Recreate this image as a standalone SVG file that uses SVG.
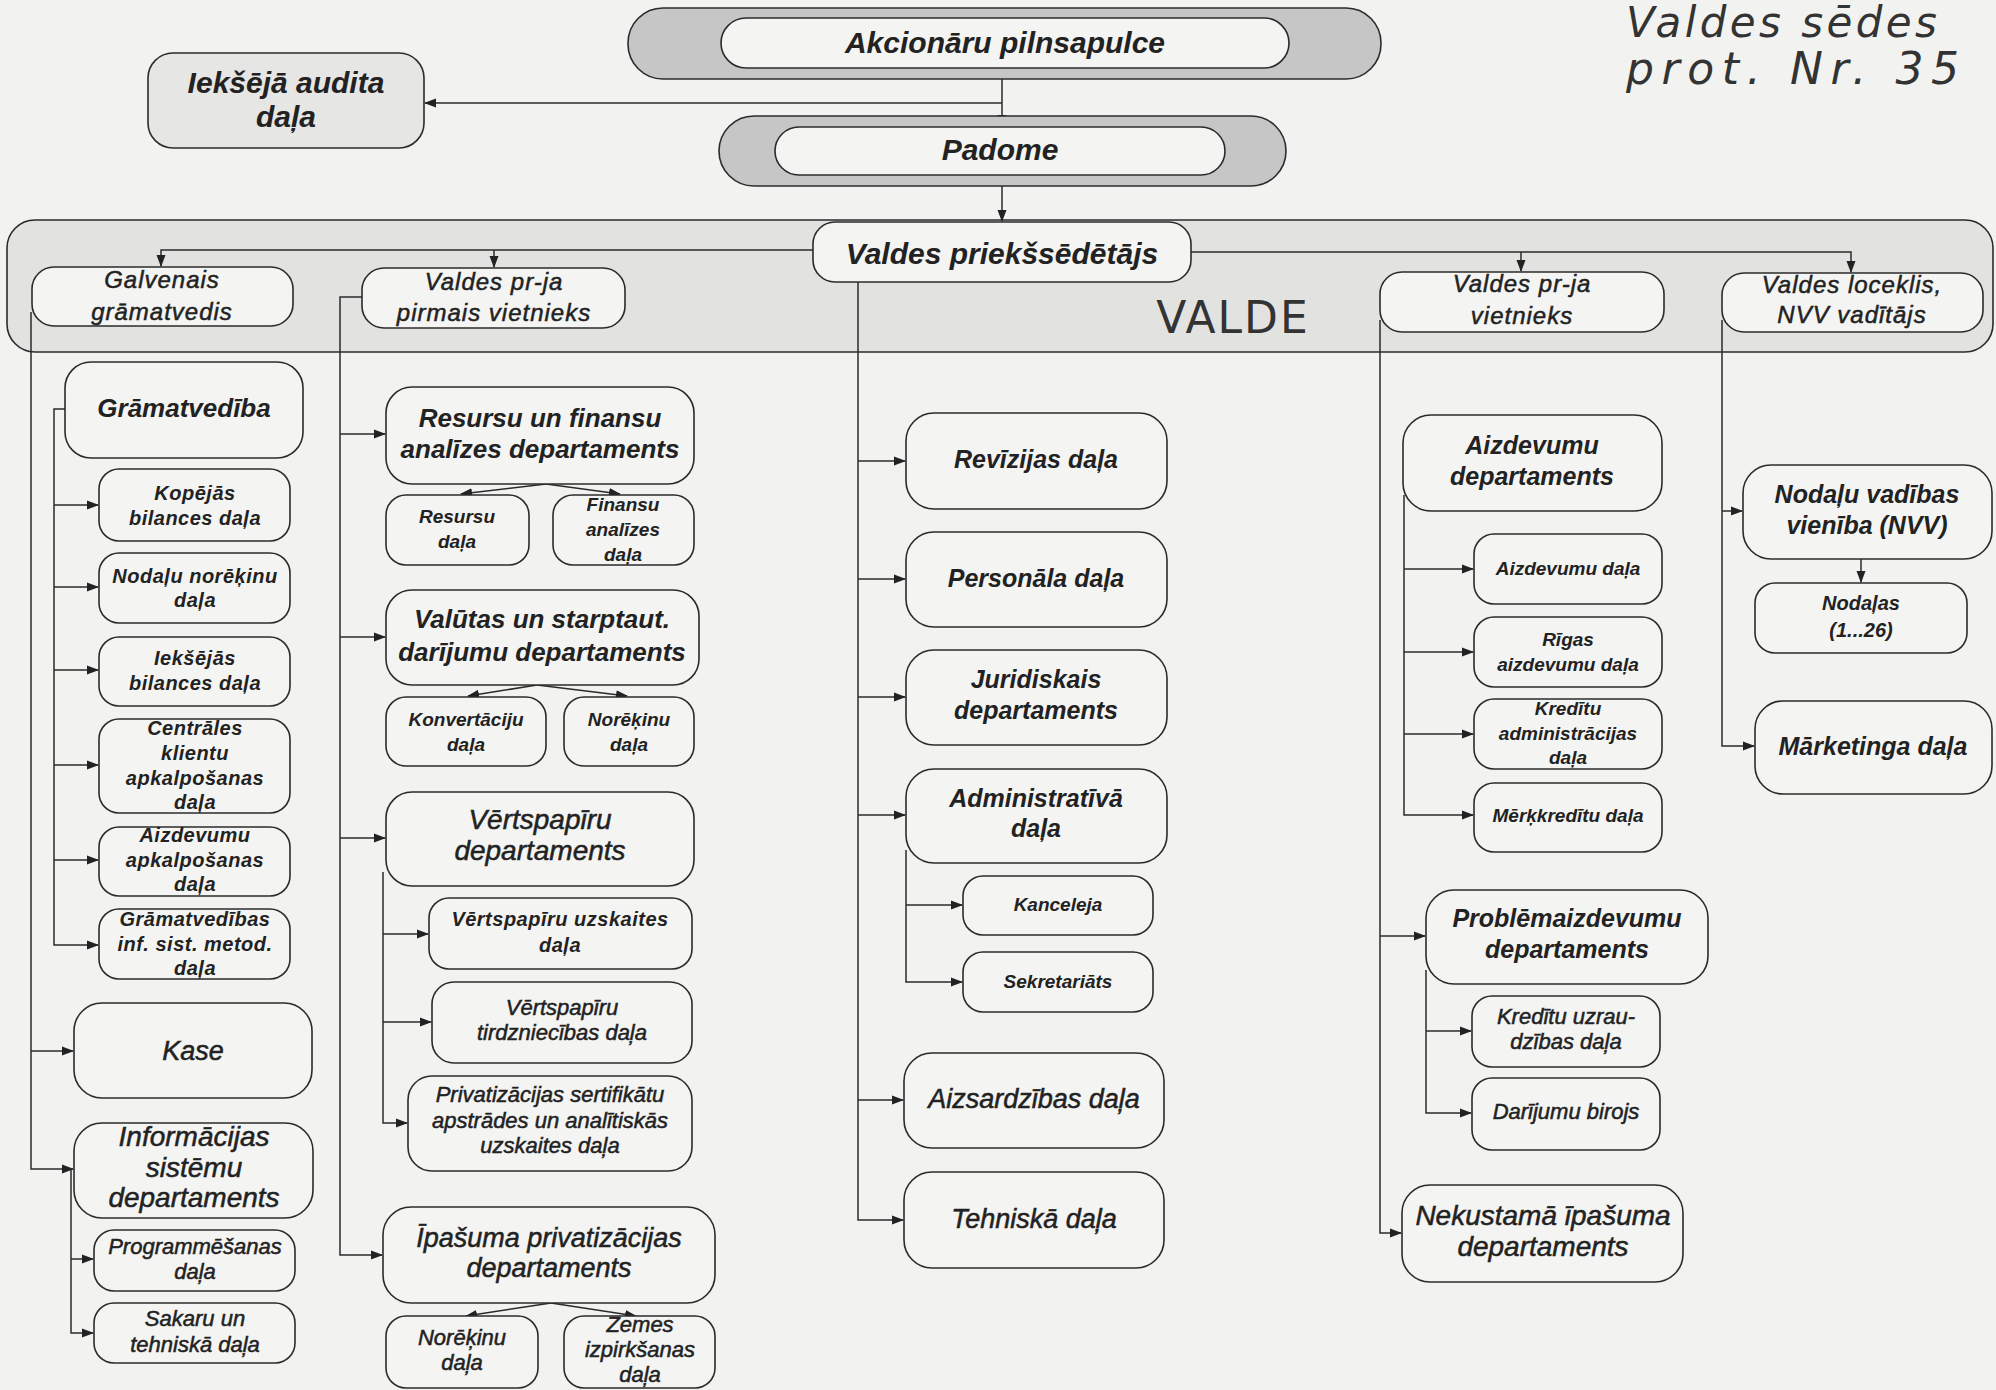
<svg xmlns="http://www.w3.org/2000/svg" width="1996" height="1390" viewBox="0 0 1996 1390">
<style>
.bg{fill:#f2f2f0}
.n{fill:#f4f4f2;stroke:#2b2b2b;stroke-width:1.6}
.g{fill:#c6c6c6;stroke:#2b2b2b;stroke-width:1.6}
.lg{fill:#e6e6e4;stroke:#2b2b2b;stroke-width:1.6}
.vb{fill:#e2e2e0;stroke:#2b2b2b;stroke-width:1.6}
text{font-family:"Liberation Sans",Arial,sans-serif;font-style:italic;fill:#222;text-anchor:middle}
.bi{font-weight:bold}
.ri{font-weight:normal;stroke:#222;stroke-width:0.5}
.c line,.c polyline{stroke:#2b2b2b;stroke-width:1.5;fill:none}
.hw{font-family:"DejaVu Sans",sans-serif;font-style:italic;font-weight:normal;fill:#333;text-anchor:start}
</style>
<defs>
<marker id="a" markerWidth="12" markerHeight="10" refX="11" refY="5" orient="auto" markerUnits="userSpaceOnUse"><path d="M0,0.5 L12,5 L0,9.5 z" fill="#222"/></marker>
</defs>
<rect class="bg" x="0" y="0" width="1996" height="1390"/>

<!-- VALDE region -->
<g id="valde-region">
<rect class="vb" x="7" y="220" width="1986" height="132" rx="28"/>
<text x="1233" y="333" style="font-family:'DejaVu Sans',sans-serif;font-style:normal;font-weight:normal;font-size:44px;letter-spacing:2px;fill:#333">VALDE</text>
</g>

<g id="note">
<text class="hw" x="1626" y="37" font-size="42" textLength="311" lengthAdjust="spacing">Valdes sēdes</text>
<text class="hw" x="1626" y="84" font-size="44" textLength="333" lengthAdjust="spacing">prot. Nr. 35</text>
</g>

<!-- connectors -->
<g class="c" id="connectors">
<line x1="1002" y1="79" x2="1002" y2="126" marker-end="url(#a)"/>
<line x1="1002" y1="103" x2="425" y2="103" marker-end="url(#a)"/>
<line x1="1002" y1="186" x2="1002" y2="221" marker-end="url(#a)"/>
<polyline points="813,250 161,250 161,266" marker-end="url(#a)"/>
<line x1="494" y1="250" x2="494" y2="267" marker-end="url(#a)"/>
<polyline points="1191,252 1851,252 1851,272" marker-end="url(#a)"/>
<line x1="1521" y1="252" x2="1521" y2="271" marker-end="url(#a)"/>
<!-- column 1 -->
<polyline points="31,312 31,1169 73,1169" marker-end="url(#a)"/>
<line x1="31" y1="1051" x2="73" y2="1051" marker-end="url(#a)"/>
<polyline points="65,409 54,409 54,945 98,945" marker-end="url(#a)"/>
<line x1="54" y1="505" x2="98" y2="505" marker-end="url(#a)"/>
<line x1="54" y1="587" x2="98" y2="587" marker-end="url(#a)"/>
<line x1="54" y1="670" x2="98" y2="670" marker-end="url(#a)"/>
<line x1="54" y1="765" x2="98" y2="765" marker-end="url(#a)"/>
<line x1="54" y1="860" x2="98" y2="860" marker-end="url(#a)"/>
<polyline points="71,1169 71,1333 93,1333" marker-end="url(#a)"/>
<line x1="71" y1="1259" x2="93" y2="1259" marker-end="url(#a)"/>
<!-- column 2 -->
<polyline points="362,297 340,297 340,1255 382,1255" marker-end="url(#a)"/>
<line x1="340" y1="434" x2="385" y2="434" marker-end="url(#a)"/>
<line x1="340" y1="637" x2="385" y2="637" marker-end="url(#a)"/>
<line x1="340" y1="838" x2="385" y2="838" marker-end="url(#a)"/>
<line x1="546" y1="484" x2="461" y2="494" marker-end="url(#a)"/>
<line x1="546" y1="484" x2="620" y2="494" marker-end="url(#a)"/>
<line x1="537" y1="685" x2="468" y2="696" marker-end="url(#a)"/>
<line x1="537" y1="685" x2="627" y2="696" marker-end="url(#a)"/>
<polyline points="383,872 383,1123 407,1123" marker-end="url(#a)"/>
<line x1="383" y1="934" x2="428" y2="934" marker-end="url(#a)"/>
<line x1="383" y1="1022" x2="431" y2="1022" marker-end="url(#a)"/>
<line x1="551" y1="1303" x2="466" y2="1316" marker-end="url(#a)"/>
<line x1="551" y1="1303" x2="636" y2="1316" marker-end="url(#a)"/>
<!-- column 3 -->
<polyline points="858,282 858,1220 903,1220" marker-end="url(#a)"/>
<line x1="858" y1="461" x2="905" y2="461" marker-end="url(#a)"/>
<line x1="858" y1="579" x2="905" y2="579" marker-end="url(#a)"/>
<line x1="858" y1="697" x2="905" y2="697" marker-end="url(#a)"/>
<line x1="858" y1="815" x2="905" y2="815" marker-end="url(#a)"/>
<line x1="858" y1="1100" x2="903" y2="1100" marker-end="url(#a)"/>
<polyline points="906,850 906,982 962,982" marker-end="url(#a)"/>
<line x1="906" y1="905" x2="962" y2="905" marker-end="url(#a)"/>
<!-- column 4 -->
<polyline points="1380,320 1380,1233 1401,1233" marker-end="url(#a)"/>
<line x1="1380" y1="936" x2="1425" y2="936" marker-end="url(#a)"/>
<polyline points="1404,495 1404,815 1473,815" marker-end="url(#a)"/>
<line x1="1404" y1="569" x2="1473" y2="569" marker-end="url(#a)"/>
<line x1="1404" y1="652" x2="1473" y2="652" marker-end="url(#a)"/>
<line x1="1404" y1="734" x2="1473" y2="734" marker-end="url(#a)"/>
<polyline points="1426,970 1426,1113 1471,1113" marker-end="url(#a)"/>
<line x1="1426" y1="1031" x2="1471" y2="1031" marker-end="url(#a)"/>
<!-- column 5 -->
<polyline points="1722,320 1722,746 1754,746" marker-end="url(#a)"/>
<line x1="1722" y1="511" x2="1742" y2="511" marker-end="url(#a)"/>
<line x1="1861" y1="559" x2="1861" y2="582" marker-end="url(#a)"/>
</g>

<!-- top nodes -->
<g id="akcionaru">
<rect class="g" x="628" y="8" width="753" height="71" rx="35"/>
<rect class="n" x="721" y="18" width="568" height="50" rx="25"/>
<text class="bi" x="1005" y="53" font-size="30">Akcionāru pilnsapulce</text>
</g>
<g id="padome">
<rect class="g" x="719" y="116" width="567" height="70" rx="35"/>
<rect class="n" x="775" y="127" width="450" height="48" rx="24"/>
<text class="bi" x="1000" y="160" font-size="30">Padome</text>
</g>
<g id="audits">
<rect class="lg" x="148" y="53" width="276" height="95" rx="25"/>
<text class="bi" x="286" y="93" font-size="30">Iekšējā audita</text>
<text class="bi" x="286" y="127" font-size="30">daļa</text>
</g>
<g id="priekssedetajs">
<rect class="n" x="813" y="222" width="378" height="60" rx="22"/>
<text class="bi" x="1002" y="264" font-size="30">Valdes priekšsēdētājs</text>
</g>
<g id="galvenais">
<rect class="n" x="32" y="267" width="261" height="59" rx="22"/>
<text class="ri" x="162" y="288" font-size="24" letter-spacing="1">Galvenais</text>
<text class="ri" x="162" y="320" font-size="24" letter-spacing="1">grāmatvedis</text>
</g>
<g id="pirmais">
<rect class="n" x="362" y="268" width="263" height="60" rx="22"/>
<text class="ri" x="494" y="290" font-size="24" letter-spacing="1">Valdes pr-ja</text>
<text class="ri" x="494" y="321" font-size="24" letter-spacing="1">pirmais vietnieks</text>
</g>
<g id="vietnieks">
<rect class="n" x="1380" y="272" width="284" height="60" rx="22"/>
<text class="ri" x="1522" y="292" font-size="24" letter-spacing="1">Valdes pr-ja</text>
<text class="ri" x="1522" y="324" font-size="24" letter-spacing="1">vietnieks</text>
</g>
<g id="loceklis">
<rect class="n" x="1722" y="273" width="261" height="59" rx="22"/>
<text class="ri" x="1852" y="293" font-size="24" letter-spacing="1">Valdes loceklis,</text>
<text class="ri" x="1852" y="323" font-size="24" letter-spacing="1">NVV vadītājs</text>
</g>

<!-- column 1 -->
<g id="gramatvediba">
<rect class="n" x="65" y="362" width="238" height="96" rx="26"/>
<text class="bi" x="184" y="417" font-size="26">Grāmatvedība</text>
</g>
<g id="kopejas">
<rect class="n" x="99" y="469" width="191" height="72" rx="20"/>
<text class="bi" x="195" y="500" font-size="20" letter-spacing="0.5">Kopējās</text>
<text class="bi" x="195" y="525" font-size="20" letter-spacing="0.5">bilances daļa</text>
</g>
<g id="nodalu-norekinu">
<rect class="n" x="99" y="553" width="191" height="70" rx="20"/>
<text class="bi" x="195" y="583" font-size="20" letter-spacing="0.5">Nodaļu norēķinu</text>
<text class="bi" x="195" y="607" font-size="20" letter-spacing="0.5">daļa</text>
</g>
<g id="ieksejas">
<rect class="n" x="99" y="637" width="191" height="69" rx="20"/>
<text class="bi" x="195" y="665" font-size="20" letter-spacing="0.5">Iekšējās</text>
<text class="bi" x="195" y="690" font-size="20" letter-spacing="0.5">bilances daļa</text>
</g>
<g id="centrales">
<rect class="n" x="99" y="719" width="191" height="94" rx="20"/>
<text class="bi" x="195" y="735" font-size="20" letter-spacing="0.5">Centrāles</text>
<text class="bi" x="195" y="760" font-size="20" letter-spacing="0.5">klientu</text>
<text class="bi" x="195" y="785" font-size="20" letter-spacing="0.5">apkalpošanas</text>
<text class="bi" x="195" y="809" font-size="20" letter-spacing="0.5">daļa</text>
</g>
<g id="aizdevumu-apkalposanas">
<rect class="n" x="99" y="827" width="191" height="69" rx="20"/>
<text class="bi" x="195" y="842" font-size="20" letter-spacing="0.5">Aizdevumu</text>
<text class="bi" x="195" y="867" font-size="20" letter-spacing="0.5">apkalpošanas</text>
<text class="bi" x="195" y="891" font-size="20" letter-spacing="0.5">daļa</text>
</g>
<g id="gramatvedibas-inf">
<rect class="n" x="99" y="909" width="191" height="70" rx="20"/>
<text class="bi" x="195" y="926" font-size="20" letter-spacing="0.5">Grāmatvedības</text>
<text class="bi" x="195" y="951" font-size="20" letter-spacing="0.5">inf. sist. metod.</text>
<text class="bi" x="195" y="975" font-size="20" letter-spacing="0.5">daļa</text>
</g>
<g id="kase">
<rect class="n" x="74" y="1003" width="238" height="95" rx="28"/>
<text class="ri" x="193" y="1060" font-size="27">Kase</text>
</g>
<g id="informacijas">
<rect class="n" x="74" y="1123" width="239" height="95" rx="28"/>
<text class="ri" x="194" y="1146" font-size="28">Informācijas</text>
<text class="ri" x="194" y="1177" font-size="28">sistēmu</text>
<text class="ri" x="194" y="1207" font-size="28">departaments</text>
</g>
<g id="programmesanas">
<rect class="n" x="94" y="1230" width="201" height="61" rx="20"/>
<text class="ri" x="195" y="1254" font-size="22">Programmēšanas</text>
<text class="ri" x="195" y="1279" font-size="22">daļa</text>
</g>
<g id="sakaru">
<rect class="n" x="94" y="1303" width="201" height="60" rx="20"/>
<text class="ri" x="195" y="1326" font-size="22">Sakaru un</text>
<text class="ri" x="195" y="1352" font-size="22">tehniskā daļa</text>
</g>

<!-- column 2 -->
<g id="resursu-dept">
<rect class="n" x="386" y="387" width="308" height="97" rx="26"/>
<text class="bi" x="540" y="427" font-size="26">Resursu un finansu</text>
<text class="bi" x="540" y="458" font-size="26">analīzes departaments</text>
</g>
<g id="resursu-dala">
<rect class="n" x="386" y="495" width="143" height="70" rx="20"/>
<text class="bi" x="457" y="523" font-size="19">Resursu</text>
<text class="bi" x="457" y="548" font-size="19">daļa</text>
</g>
<g id="finansu-dala">
<rect class="n" x="553" y="495" width="141" height="70" rx="20"/>
<text class="bi" x="623" y="511" font-size="19">Finansu</text>
<text class="bi" x="623" y="536" font-size="19">analīzes</text>
<text class="bi" x="623" y="561" font-size="19">daļa</text>
</g>
<g id="valutas">
<rect class="n" x="386" y="590" width="313" height="95" rx="26"/>
<text class="bi" x="542" y="628" font-size="26">Valūtas un starptaut.</text>
<text class="bi" x="542" y="661" font-size="26">darījumu departaments</text>
</g>
<g id="konvertaciju">
<rect class="n" x="386" y="697" width="160" height="69" rx="20"/>
<text class="bi" x="466" y="726" font-size="19">Konvertāciju</text>
<text class="bi" x="466" y="751" font-size="19">daļa</text>
</g>
<g id="norekinu-valutas">
<rect class="n" x="564" y="697" width="130" height="69" rx="20"/>
<text class="bi" x="629" y="726" font-size="19">Norēķinu</text>
<text class="bi" x="629" y="751" font-size="19">daļa</text>
</g>
<g id="vertspapiru-dept">
<rect class="n" x="386" y="792" width="308" height="94" rx="26"/>
<text class="ri" x="540" y="829" font-size="28">Vērtspapīru</text>
<text class="ri" x="540" y="860" font-size="28">departaments</text>
</g>
<g id="vp-uzskaites">
<rect class="n" x="429" y="898" width="263" height="71" rx="20"/>
<text class="bi" x="560" y="926" font-size="20" letter-spacing="0.5">Vērtspapīru uzskaites</text>
<text class="bi" x="560" y="952" font-size="20" letter-spacing="0.5">daļa</text>
</g>
<g id="vp-tirdzniecibas">
<rect class="n" x="432" y="982" width="260" height="81" rx="22"/>
<text class="ri" x="562" y="1015" font-size="22">Vērtspapīru</text>
<text class="ri" x="562" y="1040" font-size="22">tirdzniecības daļa</text>
</g>
<g id="privatizacijas-sert">
<rect class="n" x="408" y="1076" width="284" height="95" rx="24"/>
<text class="ri" x="550" y="1102" font-size="22">Privatizācijas sertifikātu</text>
<text class="ri" x="550" y="1128" font-size="22">apstrādes un analītiskās</text>
<text class="ri" x="550" y="1153" font-size="22">uzskaites daļa</text>
</g>
<g id="ipasuma">
<rect class="n" x="383" y="1207" width="332" height="96" rx="28"/>
<text class="ri" x="549" y="1247" font-size="27">Īpašuma privatizācijas</text>
<text class="ri" x="549" y="1277" font-size="27">departaments</text>
</g>
<g id="norekinu-ipasuma">
<rect class="n" x="386" y="1316" width="152" height="72" rx="20"/>
<text class="ri" x="462" y="1345" font-size="22">Norēķinu</text>
<text class="ri" x="462" y="1370" font-size="22">daļa</text>
</g>
<g id="zemes">
<rect class="n" x="564" y="1316" width="151" height="72" rx="20"/>
<text class="ri" x="640" y="1332" font-size="22">Zemes</text>
<text class="ri" x="640" y="1357" font-size="22">izpirkšanas</text>
<text class="ri" x="640" y="1382" font-size="22">daļa</text>
</g>

<!-- column 3 -->
<g id="revizijas">
<rect class="n" x="906" y="413" width="261" height="96" rx="28"/>
<text class="bi" x="1036" y="468" font-size="25">Revīzijas daļa</text>
</g>
<g id="personala">
<rect class="n" x="906" y="532" width="261" height="95" rx="28"/>
<text class="bi" x="1036" y="587" font-size="25">Personāla daļa</text>
</g>
<g id="juridiskais">
<rect class="n" x="906" y="650" width="261" height="95" rx="28"/>
<text class="bi" x="1036" y="688" font-size="25">Juridiskais</text>
<text class="bi" x="1036" y="719" font-size="25">departaments</text>
</g>
<g id="administrativa">
<rect class="n" x="906" y="769" width="261" height="94" rx="28"/>
<text class="bi" x="1036" y="807" font-size="25">Administratīvā</text>
<text class="bi" x="1036" y="837" font-size="25">daļa</text>
</g>
<g id="kanceleja">
<rect class="n" x="963" y="876" width="190" height="59" rx="20"/>
<text class="bi" x="1058" y="911" font-size="19">Kanceleja</text>
</g>
<g id="sekretariats">
<rect class="n" x="963" y="952" width="190" height="60" rx="20"/>
<text class="bi" x="1058" y="988" font-size="19">Sekretariāts</text>
</g>
<g id="aizsardzibas">
<rect class="n" x="904" y="1053" width="260" height="95" rx="28"/>
<text class="ri" x="1034" y="1108" font-size="27">Aizsardzības daļa</text>
</g>
<g id="tehniska">
<rect class="n" x="904" y="1172" width="260" height="96" rx="28"/>
<text class="ri" x="1034" y="1228" font-size="27">Tehniskā daļa</text>
</g>

<!-- column 4 -->
<g id="aizdevumu-dept">
<rect class="n" x="1403" y="415" width="259" height="96" rx="28"/>
<text class="bi" x="1532" y="454" font-size="25">Aizdevumu</text>
<text class="bi" x="1532" y="485" font-size="25">departaments</text>
</g>
<g id="aizdevumu-dala">
<rect class="n" x="1474" y="534" width="188" height="70" rx="20"/>
<text class="bi" x="1568" y="575" font-size="19">Aizdevumu daļa</text>
</g>
<g id="rigas">
<rect class="n" x="1474" y="617" width="188" height="70" rx="20"/>
<text class="bi" x="1568" y="646" font-size="19">Rīgas</text>
<text class="bi" x="1568" y="671" font-size="19">aizdevumu daļa</text>
</g>
<g id="kreditu-adm">
<rect class="n" x="1474" y="699" width="188" height="70" rx="20"/>
<text class="bi" x="1568" y="715" font-size="19">Kredītu</text>
<text class="bi" x="1568" y="740" font-size="19">administrācijas</text>
<text class="bi" x="1568" y="764" font-size="19">daļa</text>
</g>
<g id="merkkreditu">
<rect class="n" x="1474" y="783" width="188" height="69" rx="20"/>
<text class="bi" x="1568" y="822" font-size="19">Mērķkredītu daļa</text>
</g>
<g id="problemaizdevumu">
<rect class="n" x="1426" y="890" width="282" height="94" rx="28"/>
<text class="bi" x="1567" y="927" font-size="25">Problēmaizdevumu</text>
<text class="bi" x="1567" y="958" font-size="25">departaments</text>
</g>
<g id="kreditu-uzr">
<rect class="n" x="1472" y="996" width="188" height="71" rx="20"/>
<text class="ri" x="1566" y="1024" font-size="22">Kredītu uzrau-</text>
<text class="ri" x="1566" y="1049" font-size="22">dzības daļa</text>
</g>
<g id="darijumu">
<rect class="n" x="1472" y="1078" width="188" height="72" rx="20"/>
<text class="ri" x="1566" y="1119" font-size="22">Darījumu birojs</text>
</g>
<g id="nekustama">
<rect class="n" x="1402" y="1185" width="281" height="97" rx="28"/>
<text class="ri" x="1543" y="1225" font-size="28">Nekustamā īpašuma</text>
<text class="ri" x="1543" y="1256" font-size="28">departaments</text>
</g>

<!-- column 5 -->
<g id="nvv">
<rect class="n" x="1743" y="465" width="249" height="94" rx="28"/>
<text class="bi" x="1867" y="503" font-size="25">Nodaļu vadības</text>
<text class="bi" x="1867" y="534" font-size="25">vienība (NVV)</text>
</g>
<g id="nodalas">
<rect class="n" x="1755" y="583" width="212" height="70" rx="20"/>
<text class="bi" x="1861" y="610" font-size="20">Nodaļas</text>
<text class="bi" x="1861" y="637" font-size="20">(1...26)</text>
</g>
<g id="marketinga">
<rect class="n" x="1755" y="701" width="237" height="93" rx="28"/>
<text class="bi" x="1873" y="755" font-size="25">Mārketinga daļa</text>
</g>
</svg>
